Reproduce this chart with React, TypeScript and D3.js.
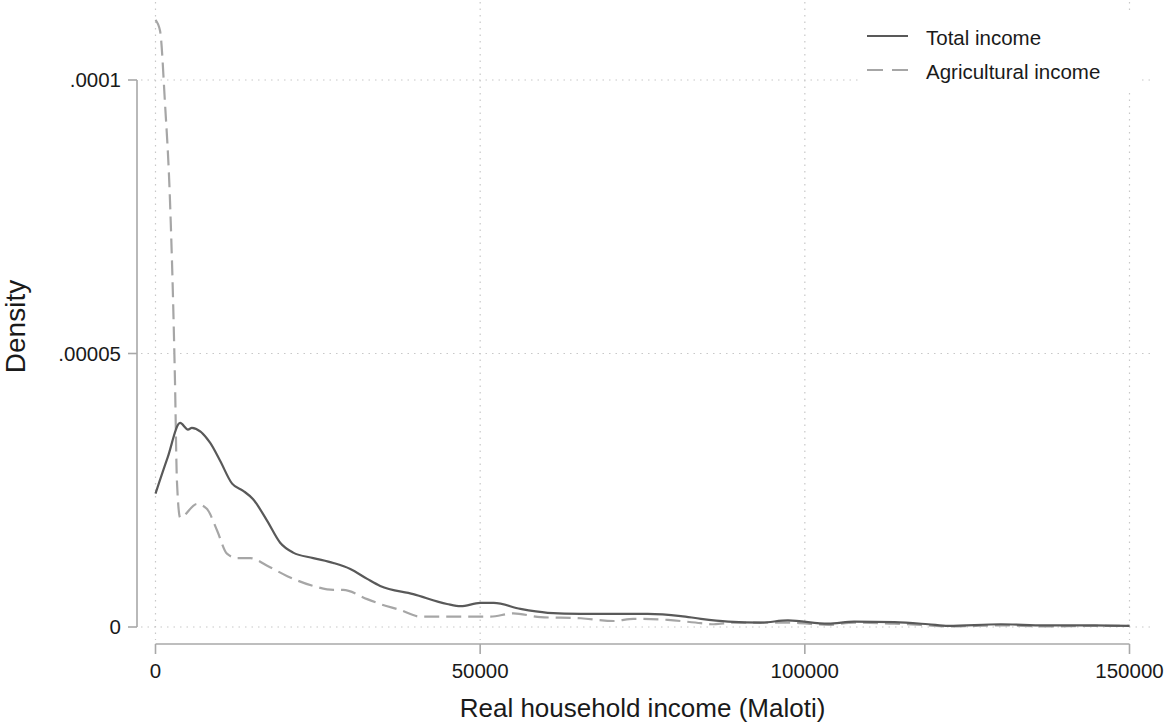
import React, { useEffect, useRef } from 'react';
import * as d3 from 'd3';

// kernel density estimates (income in Maloti, density in units of 1e-6)
const totalX = [0, 1850, 3800, 5000, 5600, 8400, 9950, 11800, 13500, 15000, 17200, 19200, 21200, 24300, 27400, 30000, 32600, 34600, 39700, 44900, 47000, 50000, 52100, 56200, 60400, 65500, 70600, 75800, 80900, 84000, 88200, 93200, 97400, 103600, 107600, 113800, 119000, 122100, 130200, 136900, 144600, 150000];
const totalY = [24.4, 30.9, 37.3, 36.1, 36.4, 33.7, 30.4, 26.2, 24.9, 23.4, 19.4, 15.4, 13.6, 12.6, 11.7, 10.6, 8.8, 7.5, 6.0, 4.2, 3.8, 4.4, 4.4, 3.3, 2.6, 2.4, 2.4, 2.4, 2.0, 1.5, 1.0, 0.8, 1.2, 0.6, 1.0, 0.9, 0.5, 0.2, 0.5, 0.3, 0.3, 0.2];

const agriX = [0, 700, 1450, 2230, 3000, 3300, 3800, 6400, 7900, 9500, 11000, 12600, 14600, 17200, 20300, 24300, 27400, 28900, 32600, 34600, 37700, 40800, 47400, 51600, 55100, 59300, 65500, 70600, 73600, 78900, 84000, 86000, 89100, 97400, 103600, 107600, 113800, 119000, 122100, 130200, 136900, 144600, 150000];
const agriY = [111, 109, 96, 78, 45, 26.7, 20.0, 22.5, 21.6, 17.6, 13.4, 12.6, 12.6, 11.2, 9.3, 7.5, 6.8, 6.8, 5.1, 4.2, 3.1, 1.9, 1.9, 1.9, 2.5, 1.8, 1.6, 1.1, 1.5, 1.3, 0.7, 0.5, 0.8, 0.8, 0.4, 0.8, 0.6, 0.3, 0.1, 0.3, 0.1, 0.2, 0.2];

const xTicks = [0, 50000, 100000, 150000];
const yTicks = [0, 0.00005, 0.0001];
const yTickLabels = ['0', '.00005', '.0001'];

const seriesNames = ['Total income', 'Agricultural income'];

const App = () => {
  const svgRef = useRef<SVGSVGElement>(null);

  useEffect(() => {
    const boxWidth = 1167;
    const boxHeight = 724;
    const font = '"Liberation Sans", Arial, Helvetica, sans-serif';

    const svg = d3.select(svgRef.current);
    svg.selectAll('*').remove();
    svg.attr('width', boxWidth).attr('height', boxHeight);

    svg.append('rect').attr('width', boxWidth).attr('height', boxHeight).attr('fill', 'white');

    const x = d3.scaleLinear().domain([0, 150000]).range([155.5, 1129.5]);
    const y = d3.scaleLinear().domain([0, 0.0001]).range([627, 80]);

    // plot region edges (grid spans the whole region)
    const px0 = 141, px1 = 1150, py0 = 2, py1 = 640;

    const grid = svg.append('g')
      .attr('stroke', '#c8c8c8')
      .attr('stroke-width', 1.2)
      .attr('stroke-dasharray', '1.5,5');

    grid.selectAll('line.v')
      .data(xTicks)
      .join('line')
      .attr('class', 'v')
      .attr('x1', d => x(d)).attr('x2', d => x(d))
      .attr('y1', py0).attr('y2', py1);

    grid.selectAll('line.h')
      .data(yTicks)
      .join('line')
      .attr('class', 'h')
      .attr('x1', px0).attr('x2', px1)
      .attr('y1', d => y(d)).attr('y2', d => y(d));

    // axes
    const axisColor = '#a8a8a8';
    const yAxisX = 137;
    const xAxisY = 644;

    svg.append('line')
      .attr('x1', yAxisX).attr('x2', yAxisX)
      .attr('y1', y(0.0001)).attr('y2', y(0))
      .attr('stroke', axisColor).attr('stroke-width', 1.6);

    svg.append('g').selectAll('line')
      .data(yTicks)
      .join('line')
      .attr('x1', yAxisX - 9).attr('x2', yAxisX)
      .attr('y1', d => y(d)).attr('y2', d => y(d))
      .attr('stroke', axisColor).attr('stroke-width', 1.6);

    svg.append('g').selectAll('text')
      .data(yTicks)
      .join('text')
      .attr('x', yAxisX - 16)
      .attr('y', d => y(d) + 7)
      .attr('text-anchor', 'end')
      .style('font-size', '20.5px')
      .style('font-family', font)
      .attr('fill', '#1a1a1a')
      .text((d, i) => yTickLabels[i]);

    svg.append('line')
      .attr('x1', x(0)).attr('x2', x(150000))
      .attr('y1', xAxisY).attr('y2', xAxisY)
      .attr('stroke', axisColor).attr('stroke-width', 1.6);

    svg.append('g').selectAll('line')
      .data(xTicks)
      .join('line')
      .attr('x1', d => x(d)).attr('x2', d => x(d))
      .attr('y1', xAxisY).attr('y2', xAxisY + 10)
      .attr('stroke', axisColor).attr('stroke-width', 1.6);

    svg.append('g').selectAll('text')
      .data(xTicks)
      .join('text')
      .attr('x', d => x(d))
      .attr('y', 678)
      .attr('text-anchor', 'middle')
      .style('font-size', '20.5px')
      .style('font-family', font)
      .attr('fill', '#1a1a1a')
      .text(d => String(d));

    // axis titles
    svg.append('text')
      .attr('x', (x(0) + x(150000)) / 2)
      .attr('y', 717)
      .attr('text-anchor', 'middle')
      .style('font-size', '26px')
      .style('font-family', font)
      .attr('fill', '#1a1a1a')
      .text('Real household income (Maloti)');

    svg.append('text')
      .attr('transform', `translate(25, ${(y(0) + y(0.0001)) / 2 - 27}) rotate(-90)`)
      .attr('text-anchor', 'middle')
      .style('font-size', '28px')
      .style('font-family', font)
      .attr('fill', '#1a1a1a')
      .text('Density');

    // density lines
    const line = d3.line<[number, number]>()
      .x(d => x(d[0]))
      .y(d => y(d[1] * 1e-6))
      .curve(d3.curveMonotoneX);

    const totalData = totalX.map((v, i) => [v, totalY[i]] as [number, number]);
    const agriData = agriX.map((v, i) => [v, agriY[i]] as [number, number]);

    svg.append('path')
      .datum(agriData)
      .attr('d', line)
      .attr('fill', 'none')
      .attr('stroke', '#a6a6a6')
      .attr('stroke-width', 2.2)
      .attr('stroke-dasharray', '15,7');

    svg.append('path')
      .datum(totalData)
      .attr('d', line)
      .attr('fill', 'none')
      .attr('stroke', '#595959')
      .attr('stroke-width', 2.2);

    // legend
    const legend = svg.append('g');
    legend.append('rect')
      .attr('x', 858).attr('y', 14)
      .attr('width', 282).attr('height', 79)
      .attr('fill', 'white');

    const legendStyles = [
      { color: '#595959', dash: null },
      { color: '#a6a6a6', dash: '16,9' },
    ];
    seriesNames.forEach((name, i) => {
      const cy = 36 + i * 34;
      legend.append('line')
        .attr('x1', 867).attr('x2', 908)
        .attr('y1', cy).attr('y2', cy)
        .attr('stroke', legendStyles[i].color)
        .attr('stroke-width', 2.2)
        .attr('stroke-dasharray', legendStyles[i].dash);
      legend.append('text')
        .attr('x', 926)
        .attr('y', cy + 9)
        .style('font-size', '20.5px')
        .style('font-family', font)
        .attr('fill', '#1a1a1a')
        .text(name);
    });
  }, []);

  return (
    <svg ref={svgRef} style={{ position: 'absolute', left: 0, top: 0, display: 'block' }}></svg>
  );
};

export default App;
